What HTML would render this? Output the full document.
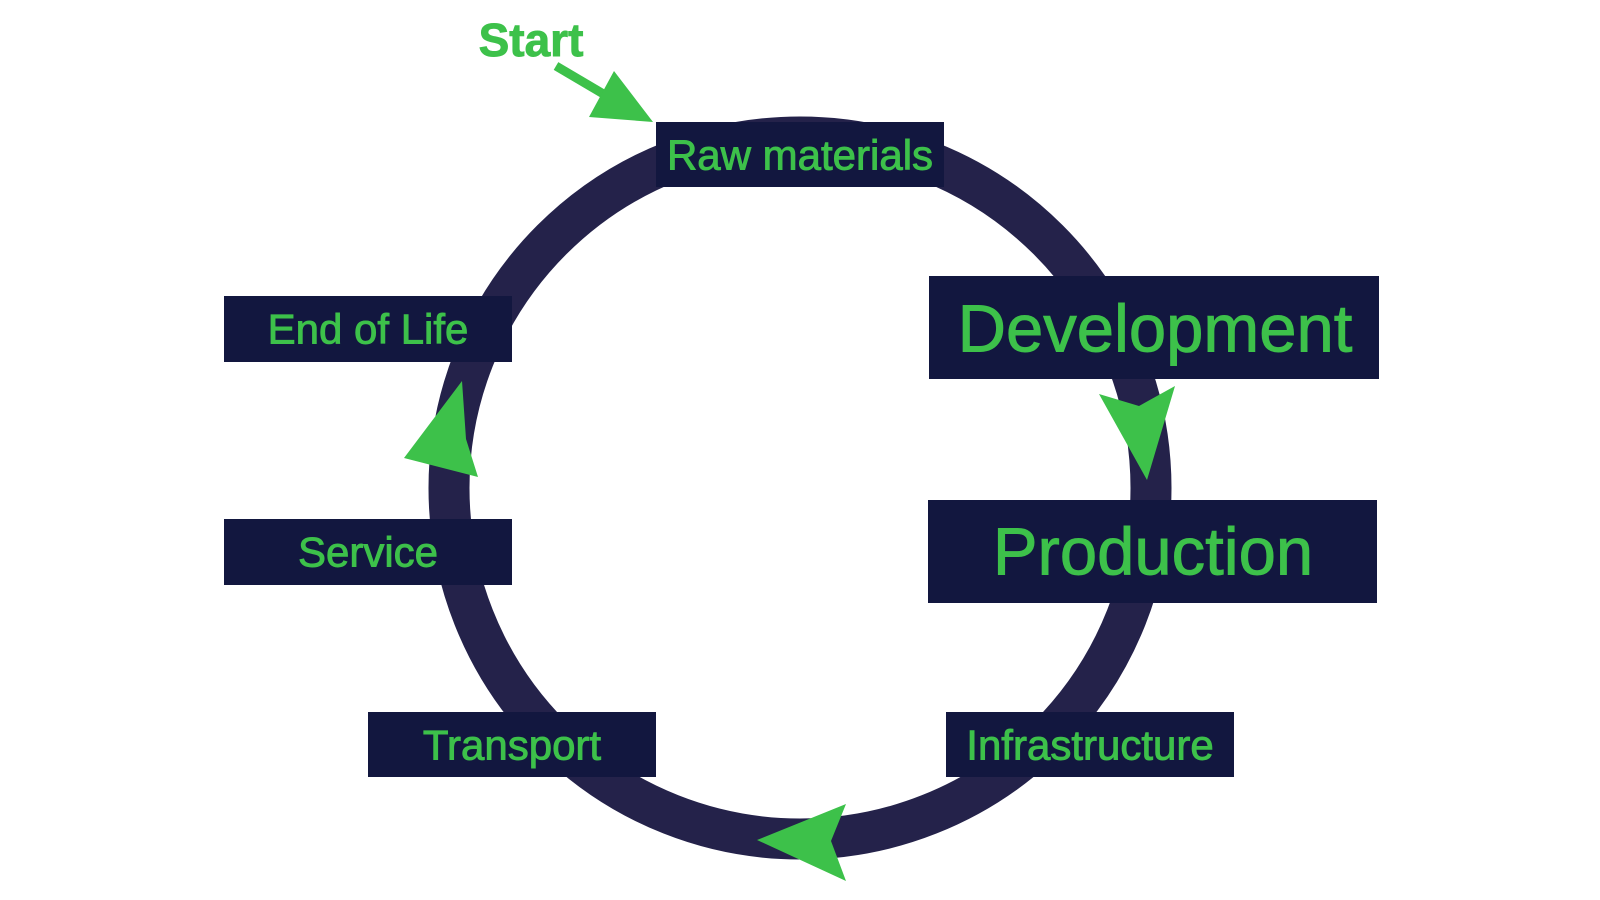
<!DOCTYPE html>
<html><head><meta charset="utf-8"><style>
html,body{margin:0;padding:0;background:#fff;width:1600px;height:900px;overflow:hidden}
svg{display:block}
text{font-family:"Liberation Sans",sans-serif;fill:#3dc14a;stroke:#3dc14a;stroke-width:0.9;text-anchor:middle;dominant-baseline:central}
</style></head><body>
<svg width="1600" height="900" viewBox="0 0 1600 900">
<g transform="translate(-3,-1)">
<circle cx="803" cy="489" r="351" fill="none" stroke="#24224a" stroke-width="41"/>
<g fill="#12173f">
<rect x="659" y="123" width="288" height="65"/>
<rect x="227" y="297" width="288" height="66"/>
<rect x="227" y="520" width="288" height="66"/>
<rect x="371" y="713" width="288" height="65"/>
<rect x="949" y="713" width="288" height="65"/>
<rect x="932" y="277" width="450" height="103"/>
<rect x="931" y="501" width="449" height="103"/>
</g>
<text x="803" y="156" font-size="42">Raw materials</text>
<text x="371" y="330" font-size="42">End of Life</text>
<text x="371" y="553" font-size="42">Service</text>
<text x="515" y="746" font-size="42">Transport</text>
<text x="1093" y="746" font-size="42">Infrastructure</text>
<text x="1158" y="330" font-size="67">Development</text>
<text x="1156" y="553" font-size="67">Production</text>
<text x="534" y="41" font-size="46" font-weight="bold">Start</text>
<g fill="#3dc14a">
<line x1="559" y1="67" x2="620" y2="103" stroke="#3dc14a" stroke-width="9"/>
<polygon points="656,123 592,118 617,72"/>
<polygon points="1102,395 1142,407 1178,387 1150,481"/>
<polygon points="465,382 407,459 481,478 469,440"/>
<polygon points="849,805 760,841 849,882 834,842"/>
</g>
</g>
</svg>
</body></html>
